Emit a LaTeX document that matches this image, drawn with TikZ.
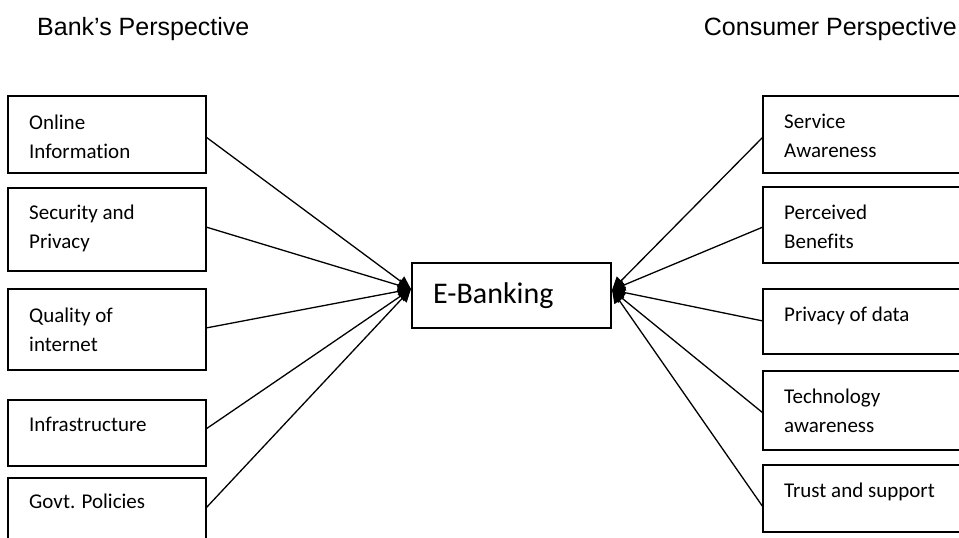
\documentclass[tikz,border=0pt]{standalone}
\usepackage{fontspec}
\setmainfont{Carlito}[Ligatures=NoCommon]
\newfontfamily\arialfont{Liberation Sans}
\usetikzlibrary{arrows.meta,calc}
\begin{document}
\begin{tikzpicture}[x=1pt,y=-1pt,
  box/.style={draw, line width=1.5pt, inner sep=0pt, outer sep=0pt, anchor=north west},
  txt/.style={anchor=north west, inner sep=0pt, align=left, font=\fontsize{21}{29}\selectfont},
  arr/.style={line width=1.3pt, -{Triangle[length=13pt,width=12pt]}},
  ttl/.style={font=\arialfont\fontsize{25}{30}\selectfont, inner sep=0pt}]
\useasboundingbox (0,0) rectangle (959,538);

% titles
\node[ttl, anchor=base west] (bank) at (37,35) {Bank’s Perspective};
\node[ttl, anchor=base east] (cons) at (957,35) {Consumer Perspective};

% left boxes
\node[box, minimum width=198, minimum height=77] (L1) at (8,96) {};
\node[box, minimum width=198, minimum height=83] (L2) at (8,188) {};
\node[box, minimum width=198, minimum height=81] (L3) at (8,289) {};
\node[box, minimum width=198, minimum height=66] (L4) at (8,400) {};
\node[box, minimum width=198, minimum height=90] (L5) at (8,478) {};

\node[txt] (tL1) at (29,111) {\rule{0pt}{18pt}Online\\Information};
\node[txt] (tL2) at (29,201) {\rule{0pt}{18pt}Security and\\Privacy};
\node[txt] (tL3) at (29,304) {\rule{0pt}{18pt}Quality of\\internet};
\node[txt] (tL4) at (29,413) {\rule{0pt}{18pt}Infrastructure};
\node[txt] (tL5) at (29,490) {\rule{0pt}{18pt}Govt. Policies};

% right boxes
\node[box, minimum width=250, minimum height=77] (R1) at (763,96) {};
\node[box, minimum width=250, minimum height=76] (R2) at (763,187) {};
\node[box, minimum width=250, minimum height=65] (R3) at (763,289) {};
\node[box, minimum width=250, minimum height=79] (R4) at (763,371) {};
\node[box, minimum width=250, minimum height=67] (R5) at (763,465) {};

\node[txt] (tR1) at (784,110) {\rule{0pt}{18pt}Service\\Awareness};
\node[txt] (tR2) at (784,201) {\rule{0pt}{18pt}Perceived\\Benefits};
\node[txt] (tR3) at (784,303) {\rule{0pt}{18pt}Privacy of data};
\node[txt] (tR4) at (784,385) {\rule{0pt}{18pt}Technology\\awareness};
\node[txt] (tR5) at (784,479) {\rule{0pt}{18pt}Trust and support};

% centre
\node[box, minimum width=199, minimum height=65] (E) at (412,263) {};
\node[anchor=base west, inner sep=0pt, font=\fontsize{30}{36}\selectfont] (tE) at (433,303) {E-Banking};

\coordinate (tipL) at (411,289);
\coordinate (tipR) at (612,290);

\draw[arr] ($(L1.north east)+(0,41)$) -- (tipL);
\draw[arr] ($(L2.north east)+(0,39)$) -- (tipL);
\draw[arr] ($(L3.north east)+(0,39)$) -- (tipL);
\draw[arr] ($(L4.north east)+(0,29)$) -- (tipL);
\draw[arr] ($(L5.north east)+(0,30)$) -- (tipL);

\draw[arr] ($(R1.north west)+(0,41)$) -- (tipR);
\draw[arr] ($(R2.north west)+(0,40)$) -- (tipR);
\draw[arr] ($(R3.north west)+(0,32)$) -- (tipR);
\draw[arr] ($(R4.north west)+(0,42)$) -- (tipR);
\draw[arr] ($(R5.north west)+(0,42)$) -- (tipR);
\end{tikzpicture}
\end{document}
